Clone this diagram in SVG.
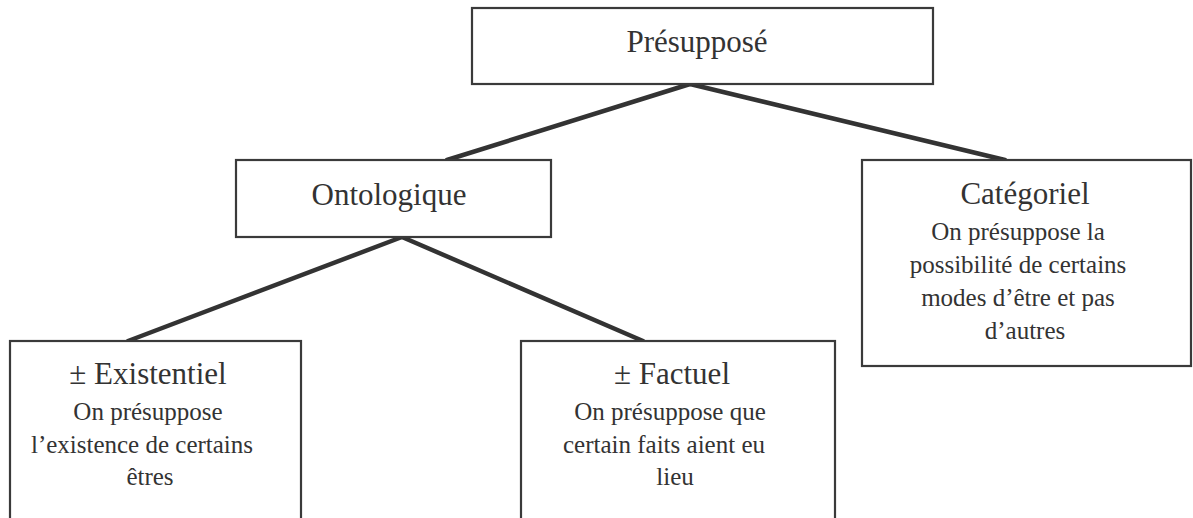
<svg xmlns="http://www.w3.org/2000/svg" width="1193" height="518" viewBox="0 0 1193 518">
<style>
.box{fill:#fff;stroke:#3a3a3a;stroke-width:2.2}
.conn{stroke:#333;stroke-width:4.5;fill:none;stroke-linecap:round}
text{font-family:"Liberation Serif","Times New Roman",serif;fill:#333;text-anchor:middle}
.t{font-size:31px}
.b{font-size:25px}
</style>
<rect width="1193" height="518" fill="#fff"/>
<g id="connectors">
<line class="conn" x1="690" y1="84" x2="447" y2="160"/>
<line class="conn" x1="690" y1="84" x2="1005" y2="160"/>
<line class="conn" x1="402" y1="237" x2="128" y2="341"/>
<line class="conn" x1="402" y1="237" x2="643" y2="341"/>
</g>
<g id="presuppose">
<rect class="box" x="472" y="8" width="461" height="76"/>
<text class="t" x="697" y="52">Présupposé</text>
</g>
<g id="ontologique">
<rect class="box" x="236" y="160" width="315" height="77"/>
<text class="t" x="389" y="205">Ontologique</text>
</g>
<g id="categoriel">
<rect class="box" x="862" y="160" width="329" height="206"/>
<text class="t" x="1025" y="204">Catégoriel</text>
<text class="b" x="1018" y="240">On présuppose la</text>
<text class="b" x="1018" y="273">possibilité de certains</text>
<text class="b" x="1018" y="306">modes d’être et pas</text>
<text class="b" x="1025" y="339">d’autres</text>
</g>
<g id="existentiel">
<rect class="box" x="10" y="341" width="291" height="190"/>
<text class="t" x="148" y="384">± Existentiel</text>
<text class="b" x="148" y="420">On présuppose</text>
<text class="b" x="142" y="453">l’existence de certains</text>
<text class="b" x="150" y="485">êtres</text>
</g>
<g id="factuel">
<rect class="box" x="521" y="341" width="314" height="190"/>
<text class="t" x="672" y="384">± Factuel</text>
<text class="b" x="670" y="420">On présuppose que</text>
<text class="b" x="664" y="453">certain faits aient eu</text>
<text class="b" x="675" y="485">lieu</text>
</g>
</svg>
